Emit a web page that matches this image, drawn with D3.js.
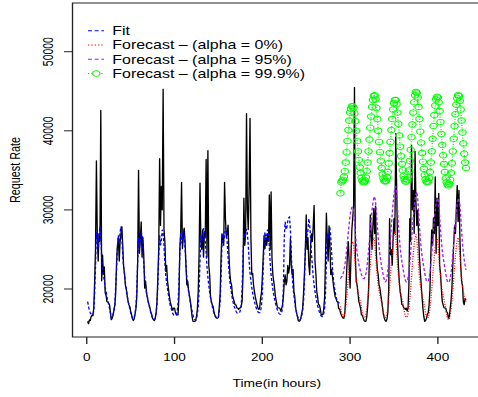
<!DOCTYPE html>
<html>
<head>
<meta charset="utf-8">
<script src="https://cdn.jsdelivr.net/npm/d3@7"></script>
<style>
  html, body { margin: 0; padding: 0; background: #fff; }
  svg { display: block; }
  text { font-family: "Liberation Sans", Arial, Helvetica, sans-serif; fill: #000; }
</style>
</head>
<body>
<div id="chart"></div>
<script>
// Hourly request rate, t = 1 .. 432
const actual = [
  15900,15600,16100,16000,16500,16700,16600,17600,21000,25200,36200,26800,23500,27000,26000,42600,21000,24300,21800,22800,19500,19200,18400,
  18400,18200,18000,17000,16100,16300,16700,17300,18000,19500,23500,25500,26500,23500,26000,27000,27900,25500,22800,22000,20500,20000,19200,18500,
  18000,17800,17200,16800,16300,16000,16200,16800,17500,19000,23500,35000,24500,26200,28500,24000,26500,24000,20100,21000,19500,19000,18400,18000,
  17600,17000,16800,16300,16100,16000,16300,17000,18400,21500,25100,36500,28000,33000,30000,45300,27500,26000,22200,23000,21000,20100,19200,18400,
  18000,17600,17300,17600,17600,17000,16800,16700,16700,19000,25100,27000,33500,25100,26500,27700,26000,23000,20500,21000,19800,19200,18500,17500,
  16500,15900,15900,15900,16000,16500,17500,19700,24500,33400,26000,25000,27500,24000,27000,26500,36400,24000,37500,23000,21800,19000,18400,18000,
  17800,17000,16700,16500,16300,16300,16400,17800,19500,24000,27000,26000,25500,33500,28900,26500,27000,28100,24300,22000,20900,20500,19200,18800,
  18400,18000,18000,17600,17600,17400,17600,17600,17800,18500,21800,31500,25500,27000,42200,30000,27500,33000,41600,26500,21800,22000,20500,19700,
  19000,18500,18000,17600,17400,17600,18800,19500,21400,24000,26800,25100,26500,25500,27000,26000,31900,25000,32300,24000,21800,21000,20100,19000,
  18400,17800,17600,17600,17600,17200,17500,18000,19000,20900,21800,20500,21000,23000,22000,22800,26400,23000,21800,22500,19700,19000,17600,17000,
  16500,16000,15900,16000,16400,17000,17600,19500,22000,24700,29400,25000,26500,23000,21800,25500,27000,26000,28000,30600,23500,22000,19700,19000,
  18000,18000,17500,16800,16700,16800,17500,19000,24000,29600,26000,23500,28000,25500,21800,22500,21500,20500,19700,19000,18800,18400,18400,17500,
  17500,17000,16700,16500,16300,16300,17000,19000,22000,24500,26000,23000,20100,24000,27500,29000,30500,45500,24000,20900,20500,19500,18400,18000,
  17500,16700,16700,16300,16000,15900,15900,16500,17800,19700,24000,29400,27000,25000,28000,30200,27000,30500,24300,22500,21800,20500,20100,19200,
  18500,17600,16800,16300,16000,15900,16200,17000,20000,28900,24300,25000,23000,26500,28900,27000,39700,33100,26000,23000,21000,19700,19000,18000,
  18000,17600,17600,17400,17600,17200,17600,20500,28900,26000,38200,30000,32500,27000,37400,31000,28000,30000,27000,24000,22200,20500,19000,17500,
  16500,15900,16000,16300,16800,17000,18000,20000,24500,27500,25500,29000,27000,34200,24500,31500,28000,32100,23000,22000,20000,18400,18000,17600,
  17600,17600,17100,17000,16300,16500,17500,18500,20100,23000,25600,28000,27000,30000,33100,28500,32500,27000,23000,21000,20500,18400,18000,18800,
  18600
];

// Model fit, t = 1 .. 288
const fitted = [
  18400,17800,17300,17000,16800,16700,16800,17200,19500,23000,27200,26000,25200,26800,27900,26500,24000,22500,21800,21000,20200,19700,19000,
  18500,18000,17500,16900,16300,16400,16800,17400,18000,20500,22600,25500,26800,25800,27200,27900,26500,24300,22800,21800,20800,20000,19200,18500,
  18000,17500,17000,16600,16300,16200,16400,16900,17800,19800,23500,26500,25300,26000,27300,26800,25000,23000,21500,20500,19700,19000,18400,17900,
  17500,17000,16600,16300,16100,16100,16300,16900,18000,20500,24000,26800,25500,26300,27500,27000,25500,23300,21700,20800,20000,19300,18600,18000,
  17600,17200,16900,16700,16600,16600,16700,17100,18200,20500,24200,27000,25800,26500,27500,27000,25300,23000,21500,20500,19700,19000,18300,17700,
  17200,16700,16300,16100,16000,16200,16800,17800,19800,23500,26800,26000,26500,27700,27200,26000,24500,22800,21500,20500,19600,18900,18300,17800,
  17300,16900,16600,16400,16300,16300,16500,17200,18500,21500,25500,27000,26000,26800,27800,27300,25800,24000,22300,21000,20200,19400,18700,18200,
  17800,17500,17200,17000,16900,16900,17000,17300,18000,20000,24000,27000,26500,27000,27600,27000,25500,23500,22000,21000,20200,19500,18900,18400,
  18000,17600,17300,17100,17000,17000,17200,17800,19500,22500,25500,27200,26200,26800,27500,27000,25300,23300,21800,20800,20000,19300,18700,18200,
  17800,17400,17100,16900,16800,16800,17000,17600,20000,26500,28500,27500,27800,28600,29000,29100,27500,24500,22000,20100,19200,18300,17500,17000,
  16600,16300,16100,16100,16300,16700,17300,18500,21000,25000,27500,26800,27500,28900,28000,26500,24500,23000,21500,20500,19700,19000,18400,17900,
  17500,17100,16800,16600,16500,16600,16900,17600,19500,23500,27000,26500,27200,27800,26500,24500,22500,21200,20300,19600,19000,18600,18400,18300,
  18200
];

// Forecasts, t = 289 .. 432
const forecast0 = [
  17800,17100,16700,16500,16600,17000,17700,18700,20000,21500,22900,24100,25100,25800,26000,25500,24300,22700,21300,20300,19600,19100,18700,
  18300,17600,16900,16500,16300,16400,16800,17500,18600,19900,21500,23000,24300,25400,26100,26500,25900,24500,22900,21500,20500,19800,19200,18800,
  18400,17700,17000,16600,16400,16500,16900,17700,18800,20200,21800,23300,24700,25900,26800,27300,26600,25000,23200,21700,20600,19800,19300,18800,
  18400,17700,17000,16600,16400,16500,16900,17600,18700,20000,21600,23100,24500,25600,26400,26900,26300,24800,23000,21500,20500,19800,19200,18700,
  18300,17600,16900,16500,16300,16400,16800,17500,18600,19900,21400,22900,24200,25300,26100,26500,25900,24400,22800,21400,20400,19700,19100,18700,
  18200,17400,16700,16300,16100,16200,16600,17400,18500,19800,21300,22800,24200,25300,26100,26500,25900,24400,22800,21400,20400,19700,19200,18800,
  18400
];
const forecast95 = [
  21300,21500,21600,21900,22400,23000,23800,24800,26000,27200,28300,29300,30000,30300,30400,29900,28600,27100,25700,24600,23800,23100,22600,
  22200,21800,21500,21300,21300,21500,21900,22600,23600,24800,26200,27600,28900,30000,30900,31500,31700,31000,29600,28000,26500,25300,24300,23500,
  22800,22200,21600,21200,20900,21000,21500,22300,23400,24800,26400,28000,29500,30900,32000,32800,33000,32100,30200,28200,26600,25300,24300,23500,
  22800,22100,21500,21100,20900,21000,21400,22200,23300,24700,26200,27700,29100,30300,31300,32000,32300,31500,29800,28000,26400,25100,24200,23400,
  22700,22000,21400,21000,20900,21000,21400,22100,23100,24400,25900,27400,28800,29900,30800,31300,31500,30800,29200,27500,26000,24900,24000,23300,
  22600,21900,21300,20900,20800,20900,21300,22000,23000,24300,25800,27300,28700,29800,30700,31300,31500,30800,29200,27400,25800,24600,23700,23000,
  22400
];
const forecast999 = [
  32100,33500,33700,33800,34200,34900,36000,37300,38700,40100,41300,42300,42800,43100,43100,42900,42200,41200,40000,38700,37400,36300,35400,
  34700,34100,33700,33500,33500,33700,34100,34900,36000,37400,38900,40400,41800,43000,43900,44400,44500,44000,42900,41500,40000,38600,37300,36200,
  35300,34500,34000,33700,33600,33700,34100,34800,35900,37200,38600,40100,41500,42700,43500,43900,43900,43400,42300,40900,39400,38000,36800,35800,
  35000,34300,33900,33600,33600,33800,34200,35000,36200,37600,39200,40800,42300,43600,44500,44900,44800,44200,43000,41500,39900,38500,37200,36100,
  35200,34400,33900,33600,33500,33600,34000,34800,36000,37400,39000,40600,42000,43200,44000,44300,44200,43600,42500,41100,39600,38200,36900,35800,
  34800,34000,33500,33200,33100,33300,33800,34700,35900,37400,39000,40600,42100,43300,44100,44500,44400,43800,42700,41300,39800,38400,37100,36000,
  35300
];

const actualStart = 1, fitStart = 1, forecastStart = 289;
const xTicks = [0, 100, 200, 300, 400];
const yTicks = [20000, 30000, 40000, 50000];
const xDomain = [-16.24, 449.24];
const yDomain = [13932, 56157];
const legendLabels = [
  "Fit",
  "Forecast \u2013 (alpha = 0%)",
  "Forecast \u2013 (alpha = 95%)",
  "Forecast \u2013 (alpha = 99.9%)"
];
const colors = { actual: "#000000", fit: "#0000ff", f0: "#ff0000", f95: "#a020f0", f999: "#00ff00" };

// The drawing is laid out on a narrower canvas and stretched to the page width.
const W = 478, H = 397, K = 1.33;
const VW = W / K;
const hx = v => v / K;

const svg = d3.select("#chart").append("svg")
  .attr("width", W).attr("height", H)
  .attr("viewBox", `0 0 ${VW} ${H}`)
  .attr("preserveAspectRatio", "none");

svg.append("rect").attr("width", VW).attr("height", H).attr("fill", "#fff");

const plot = { left: hx(72.5), right: hx(481.1), top: 3, bottom: 337 };
const x = d3.scaleLinear().domain(xDomain).range([plot.left, plot.right]);
const y = d3.scaleLinear().domain(yDomain).range([plot.bottom, plot.top]);

const pts = (arr, start) => arr.map((v, i) => ({ t: start + i, v }));
const line = d3.line().x(d => x(d.t)).y(d => y(d.v));

svg.append("clipPath").attr("id", "plotclip")
  .append("rect")
  .attr("x", plot.left).attr("y", plot.top)
  .attr("width", plot.right - plot.left).attr("height", plot.bottom - plot.top);

const g = svg.append("g").attr("clip-path", "url(#plotclip)");

// observed series
g.append("path").datum(pts(actual, actualStart))
  .attr("d", line).attr("fill", "none")
  .attr("stroke", colors.actual).attr("stroke-width", 1).attr("stroke-linejoin", "round");

// fitted values
g.append("path").datum(pts(fitted, fitStart))
  .attr("d", line).attr("fill", "none")
  .attr("stroke", colors.fit).attr("stroke-width", 1).attr("stroke-dasharray", "3,2");

// point forecast
g.append("path").datum(pts(forecast0, forecastStart))
  .attr("d", line).attr("fill", "none")
  .attr("stroke", colors.f0).attr("stroke-width", 1).attr("stroke-dasharray", "1,1.5");

// 95% bound
g.append("path").datum(pts(forecast95, forecastStart))
  .attr("d", line).attr("fill", "none")
  .attr("stroke", colors.f95).attr("stroke-width", 1).attr("stroke-dasharray", "3,2");

// 99.9% bound with markers
const p999 = pts(forecast999, forecastStart);
g.append("path").datum(p999)
  .attr("d", line).attr("fill", "none")
  .attr("stroke", colors.f999).attr("stroke-width", 1).attr("stroke-dasharray", "1,1.5");
g.selectAll("circle.m999").data(p999).join("circle")
  .attr("class", "m999")
  .attr("cx", d => x(d.t)).attr("cy", d => y(d.v)).attr("r", 2.75)
  .attr("fill", "none").attr("stroke", colors.f999).attr("stroke-width", 0.9);

// frame
svg.append("rect")
  .attr("x", plot.left).attr("y", plot.top)
  .attr("width", plot.right - plot.left).attr("height", plot.bottom - plot.top)
  .attr("fill", "none").attr("stroke", "#222").attr("stroke-width", 1);

// x axis
const xa = svg.append("g");
xa.selectAll("line").data(xTicks).join("line")
  .attr("x1", d => x(d)).attr("x2", d => x(d))
  .attr("y1", plot.bottom).attr("y2", plot.bottom + 7)
  .attr("stroke", "#222").attr("stroke-width", 1);
xa.selectAll("text").data(xTicks).join("text")
  .attr("x", d => x(d)).attr("y", 361)
  .attr("text-anchor", "middle").attr("font-size", 10.2)
  .text(d => d);
svg.append("text")
  .attr("x", (plot.left + plot.right) / 2).attr("y", 387)
  .attr("text-anchor", "middle").attr("font-size", 10.4)
  .text("Time(in hours)");

// y axis
const ya = svg.append("g");
ya.selectAll("line").data(yTicks).join("line")
  .attr("x1", plot.left - hx(8.5)).attr("x2", plot.left)
  .attr("y1", d => y(d)).attr("y2", d => y(d))
  .attr("stroke", "#222").attr("stroke-width", 1);
ya.selectAll("text").data(yTicks).join("text")
  .attr("transform", d => `translate(${hx(53)},${y(d)}) rotate(-90)`)
  .attr("text-anchor", "middle").attr("font-size", 10.4)
  .text(d => d);
svg.append("text")
  .attr("transform", `translate(${hx(19.5)},${(plot.top + plot.bottom) / 2}) rotate(-90)`)
  .attr("text-anchor", "middle").attr("font-size", 10.8)
  .text("Request Rate");

// legend
const legendRows = [
  { label: legendLabels[0], color: colors.fit, dash: "3,2", marker: false },
  { label: legendLabels[1], color: colors.f0, dash: "1,1.5", marker: false },
  { label: legendLabels[2], color: colors.f95, dash: "3,2", marker: false },
  { label: legendLabels[3], color: colors.f999, dash: "1,1.5", marker: true }
];
const legendY = [30.8, 45, 59.3, 73.5];
const lg = svg.append("g");
legendRows.forEach((r, i) => {
  const cy = legendY[i];
  lg.append("line")
    .attr("x1", hx(88)).attr("x2", hx(104)).attr("y1", cy).attr("y2", cy)
    .attr("stroke", r.color).attr("stroke-width", 1).attr("stroke-dasharray", r.dash);
  if (r.marker) {
    lg.append("circle").attr("cx", hx(96.3)).attr("cy", cy).attr("r", 2.75)
      .attr("fill", "#fff").attr("stroke", r.color).attr("stroke-width", 0.9);
  }
  lg.append("text").attr("x", hx(112.3)).attr("y", cy + 4.3)
    .attr("font-size", 12).text(r.label);
});
</script>
</body>
</html>
